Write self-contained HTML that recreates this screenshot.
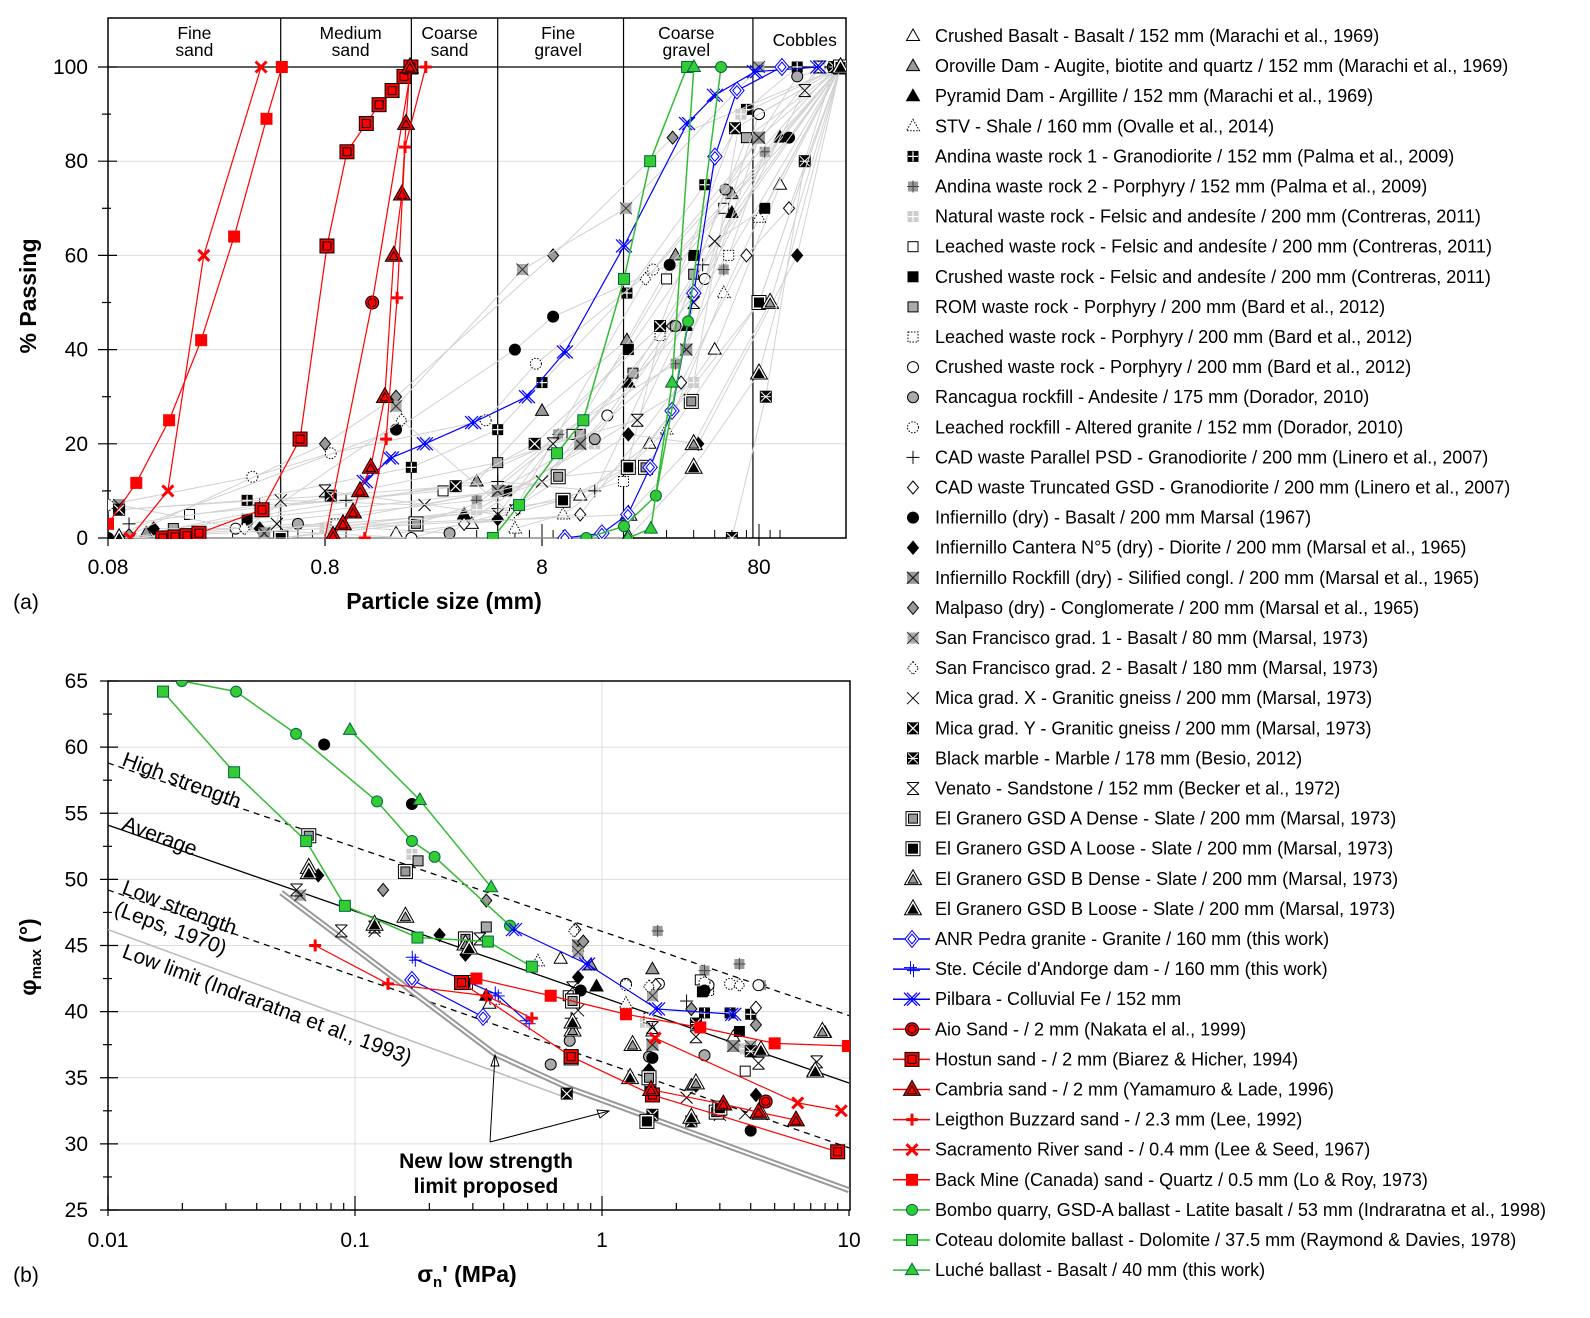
<!DOCTYPE html>
<html><head><meta charset="utf-8"><style>
html,body{margin:0;padding:0;background:#fff}
svg{display:block;font-family:"Liberation Sans",Arial,sans-serif}
</style></head><body>
<svg id="fig" width="1590" height="1318" viewBox="0 0 1590 1318" xmlns="http://www.w3.org/2000/svg">
<defs>
<clipPath id="clipA"><rect x="108" y="18" width="738" height="521"/></clipPath>
<clipPath id="clipB"><rect x="108" y="681" width="742" height="529"/></clipPath>
</defs>
<g id="plotA"></g>
<g id="plotB"></g>
<g id="legend"></g>
</svg>
<script>
// ---------- DATA: top chart (particle size mm, % passing) ----------
const classBounds = [0.5, 2, 5, 19, 75];
const classNames = [["Fine","sand",0.2],["Medium","sand",1.05],["Coarse","sand",3.0],["Fine","gravel",9.5],["Coarse","gravel",37],["Cobbles","",130]];
const topXTicks = [0.08, 0.8, 8, 80];
const topYTicks = [0, 20, 40, 60, 80, 100];
const botXTicks = [0.01, 0.1, 1, 10];
const botYTicks = [25, 30, 35, 40, 45, 50, 55, 60, 65];

const sacramentoTop = [[0.101,0],[0.151,10],[0.221,60],[0.406,100]];
const backMineTop = [[0.08,3],[0.108,11.7],[0.153,25],[0.215,42],[0.305,64],[0.43,89],[0.506,100]];
const hostunTop = [[0.143,0],[0.163,0.2],[0.185,0.5],[0.21,1],[0.41,6],[0.614,21],[0.817,62],[1.01,82],[1.24,88],[1.42,92],[1.63,95],[1.85,98],[1.99,100]];
const aioTop = [[0.8,0],[1.32,50],[2.0,100]];
const cambriaTop = [[0.871,0.5],[0.968,3],[1.077,5.5],[1.16,10],[1.3,15],[1.51,30],[1.66,60],[1.81,73],[1.89,88],[1.97,100]];
const leightonTop = [[1.22,0],[1.53,21],[1.72,51],[1.87,83],[2.33,100]];
const coteauTop = [[4.75,0],[6.27,7],[9.38,18],[12.4,25],[19.1,55],[25.2,80],[37.3,100]];
const bomboTop = [[12.8,0],[19.1,2.5],[26.8,9],[37.7,46],[53.5,100]];
const lucheTop = [[19.9,0],[25.4,2],[31.8,33],[40.1,100]];
const anrTop = [[10.2,0],[15.1,1],[19.9,5],[25.2,15],[31.8,27],[40.1,52],[50.1,81],[63.3,95],[102,100]];
const pilbaraTop = [[1.22,12],[1.61,17],[2.31,20],[3.85,24.5],[6.82,30],[10.2,39.5],[19.1,62],[37.3,88],[50.1,94],[76.7,99],[150,100]];

// ---------- DATA: bottom chart (normal stress MPa, phi max deg) ----------
const bomboBot = [[0.0199,65],[0.033,64.2],[0.0577,61],[0.1228,55.9],[0.17,52.9],[0.21,51.7],[0.424,46.5]];
const coteauBot = [[0.0167,64.2],[0.0324,58.1],[0.0634,52.9],[0.091,48],[0.179,45.6],[0.345,45.3],[0.52,43.4]];
const lucheBot = [[0.0954,61.3],[0.183,56],[0.356,49.4]];
const pilbaraBot = [[0.44,46.2],[0.87,43.6],[1.67,40.2],[3.4,39.8]];
const cecileBot = [[0.173,44],[0.375,41.3],[0.5,39.2]];
const anrBot = [[0.17,42.4],[0.33,39.6]];
const aioBot = [[4.6,33.2]];
const hostunBot = [[0.27,42.2],[0.75,36.6],[1.6,33.7],[9.0,29.4]];
const cambriaBot = [[1.58,34.1],[3.1,33.0],[4.3,32.4],[6.1,31.8]];
const leightonBot = [[0.069,45],[0.136,42.1],[0.34,41.2],[0.52,39.5]];
const sacramentoBot = [[1.64,38],[6.2,33.1],[9.3,32.5]];
const backMineBot = [[0.31,42.5],[0.62,41.2],[1.25,39.8],[2.5,38.8],[5.0,37.6],[9.9,37.4]];

// reference lines (stress, phi)
const highStrength = [[0.01,58.8],[10,39.7]];
const averageLine = [[0.01,54.1],[10,34.6]];
const lowStrength = [[0.01,49.2],[10,29.7]];
const lowLimit = [[0.01,46.2],[0.74,33.4]];
const newLimit = [[0.0502,49.0],[0.368,36.8],[0.74,34.2],[10,26.5]];

// gray datasets: marker type, top points, bottom points
const grayMarkers = ["tri-open","tri-gray","tri-black","tri-dot","quad-black","plus-gray","sq-light","sq-open","sq-black","sq-gray","sq-dot","circ-open","circ-gray","circ-dot","plus","dia-open","circ-black","dia-black","xbox-gray","dia-gray","xsq-gray","dia-dot","x","xbox-black","xbox-black2","star","sqsq-gray","sqsq-black","tritri-gray","tritri-black"];
const grayTop = [
 [[1.7,1],[3.8,3],[12,9],[25,20],[50,40],[100,75],[190,100]],
 [[0.12,1],[4,12],[8,27],[19.7,42],[33,60],[60,73],[190,100]],
 [[0.1,0],[3.5,5],[20,33],[37,45],[60,69],[100,85],[190,100]],
 [[6,2],[10,5],[20,15],[30,23],[55,52],[80,68],[190,100]],
 [[0.09,6],[0.35,8],[2,15],[5,23],[8,33],[19.7,52],[45,75],[70,91],[120,100]],
 [[0.35,3],[4,8],[9.5,22],[33,37],[55,57],[85,82],[190,100]],
 [[0.8,2],[4,6],[14,20],[40,33],[66,90],[190,100]],
 [[0.19,5],[2.8,10],[11,22],[30,55],[55,70],[190,100]],
 [[0.35,4],[5.5,10],[20,40],[40,60],[85,70],[190,100]],
 [[0.16,2],[5,16],[12,22],[21,35],[40,56],[70,85],[190,100]],
 [[0.9,3],[6,6],[19,12],[28,43],[58,60],[190,100]],
 [[0.31,2],[2,0],[6,6],[16,26],[45,55],[80,90],[190,100]],
 [[0.08,0],[0.6,3],[3,1],[14,21],[33,45],[56,74],[120,98],[175,100]],
 [[0.08,7],[0.37,13],[0.85,18],[4.4,25],[7.5,37],[26,57],[152,100]],
 [[0.1,3],[0.4,7],[1.0,8],[5,12],[14,10],[44,58],[190,100]],
 [[3.5,3],[12,5],[35,33],[70,60],[110,70],[190,100]],
 [[0.08,0],[1.7,23],[6,40],[9,47],[31,58],[110,85],[190,100]],
 [[0.13,2],[0.4,2],[5,4],[20,22],[42,20],[120,60],[190,100]],
 [[0.09,7],[0.42,1],[5,10],[12,20],[37,40],[80,85],[190,100]],
 [[0.1,0.6],[0.8,20],[1.7,30],[9,60],[32,85],[190,100]],
 [[1.7,28],[6.5,57],[19.5,70],[80,100]],
 [[0.34,2],[1.8,25],[5.8,5],[24,55],[180,100]],
 [[0.48,3],[0.5,8],[2.3,7],[8,12],[30,45],[50,63],[190,100]],
 [[0.09,6],[0.85,9],[3.2,11],[7.4,20],[28,45],[62,87],[190,100]],
 [[60,0],[86,30],[130,80],[178,100]],
 [[0.8,10],[5,5],[9,20],[22,25],[40,50],[130,95],[152,100]],
 [[0.5,0],[2.1,3],[9.5,13],[24,15],[39,29],[80,50],[190,100]],
 [[0.5,0],[10,8],[20,15],[80,50],[190,100]],
 [[0.09,0],[20,5],[40,20],[90,50],[190,100]],
 [[0.09,0],[20,0],[40,15],[80,35],[190,100]]
];
const grayBot = [
 [[0.68,44],[0.35,40.6],[1.6,38.5],[3.4,38.1]],
 [[1.6,43.2],[2.3,34.4],[8.0,38.4],[0.9,43.5]],
 [[0.34,41.2],[7.2,35.5],[0.95,41.9]],
 [[0.55,43.8],[0.37,40.9],[1.25,40.6]],
 [[2.6,39.9],[3.3,39.9],[4.0,39.8],[2.7,41.7]],
 [[1.68,46.1],[2.6,43.1],[3.6,43.6],[4.4,42]],
 [[0.17,51.9],[3.8,37.2],[1.5,39.2]],
 [[0.73,41.2],[2.5,42.4],[3.8,35.5]],
 [[2.55,41.5],[3.6,38.5]],
 [[0.18,51.4],[0.34,46.4],[3.0,32.4]],
 [[2.7,41.6],[1.55,39.5]],
 [[1.25,42.1],[1.7,42.1],[2.7,42],[4.3,42]],
 [[0.62,36],[1.55,36.6],[2.6,36.7],[0.74,37.8]],
 [[1.25,42],[2.6,42.2],[3.3,42.1]],
 [[0.75,39.5],[2.2,40.8]],
 [[0.78,46.2],[4.2,40.3],[1.65,42]],
 [[0.075,60.2],[0.17,55.7],[2.6,41.6],[4.0,31],[1.6,36.5],[0.82,41.6]],
 [[0.071,50.3],[0.22,45.8],[0.28,44.3],[0.8,42.6],[1.55,35.6],[2.4,34.4],[4.2,33.7]],
 [[0.8,45],[1.6,37.5],[3.4,37.4]],
 [[0.13,49.2],[0.34,48.4],[0.84,45.3],[2.3,40.2],[4.2,39]],
 [[0.06,48.8],[0.8,44.5],[1.6,41.2],[4.0,37.4]],
 [[0.77,46.1],[1.55,41.9],[3.6,42]],
 [[0.12,46.1],[0.8,40.1],[2.2,33.5],[3.0,32.2],[3.8,32.3]],
 [[0.72,33.8],[1.6,32.2],[2.3,31.7]],
 [[1.57,34.4],[2.4,39.1],[4.0,37]],
 [[0.058,49.2],[0.088,46.1],[0.12,46.4],[0.32,45.5],[0.76,41.8],[1.6,38.8],[2.4,38.1],[4.3,36.1],[7.4,36.2]],
 [[0.065,53.3],[0.16,50.6],[0.28,45.5],[0.76,40.8],[1.55,35],[2.9,32.4]],
 [[0.28,42.2],[0.75,36.5],[1.52,31.7],[3.0,32.7]],
 [[0.065,50.9],[0.16,47.2],[0.28,45.1],[0.76,38.6],[1.33,37.5],[2.4,34.6],[4.4,32.3],[7.8,38.5]],
 [[0.065,50.5],[0.12,46.6],[0.29,44.8],[0.76,39.2],[1.3,35],[2.3,32],[4.4,37.1],[7.3,35.5]]
];

const legendText = [
"Crushed Basalt - Basalt / 152 mm (Marachi et al., 1969)",
"Oroville Dam - Augite, biotite and quartz / 152 mm (Marachi et al., 1969)",
"Pyramid Dam - Argillite / 152 mm (Marachi et al., 1969)",
"STV - Shale / 160 mm (Ovalle et al., 2014)",
"Andina waste rock 1 - Granodiorite / 152 mm (Palma et al., 2009)",
"Andina waste rock 2 - Porphyry / 152 mm (Palma et al., 2009)",
"Natural waste rock - Felsic and andesíte / 200 mm (Contreras, 2011)",
"Leached waste rock - Felsic and andesíte / 200 mm (Contreras, 2011)",
"Crushed waste rock - Felsic and andesíte / 200 mm (Contreras, 2011)",
"ROM waste rock - Porphyry / 200 mm (Bard et al., 2012)",
"Leached waste rock - Porphyry / 200 mm (Bard et al., 2012)",
"Crushed waste rock - Porphyry / 200 mm (Bard et al., 2012)",
"Rancagua rockfill - Andesite / 175 mm (Dorador, 2010)",
"Leached rockfill - Altered granite / 152 mm (Dorador, 2010)",
"CAD waste Parallel PSD - Granodiorite / 200 mm (Linero et al., 2007)",
"CAD waste Truncated GSD - Granodiorite / 200 mm (Linero et al., 2007)",
"Infiernillo (dry) - Basalt / 200 mm Marsal (1967)",
"Infiernillo Cantera N°5 (dry) - Diorite / 200 mm (Marsal et al., 1965)",
"Infiernillo Rockfill (dry) - Silified congl. / 200 mm (Marsal et al., 1965)",
"Malpaso (dry) - Conglomerate / 200 mm (Marsal et al., 1965)",
"San Francisco grad. 1 - Basalt / 80 mm (Marsal, 1973)",
"San Francisco grad. 2 - Basalt / 180 mm (Marsal, 1973)",
"Mica grad. X - Granitic gneiss / 200 mm (Marsal, 1973)",
"Mica grad. Y - Granitic gneiss / 200 mm (Marsal, 1973)",
"Black marble - Marble / 178 mm (Besio, 2012)",
"Venato - Sandstone / 152 mm (Becker et al., 1972)",
"El Granero GSD A Dense - Slate / 200 mm (Marsal, 1973)",
"El Granero GSD A Loose - Slate / 200 mm (Marsal, 1973)",
"El Granero GSD B Dense - Slate / 200 mm (Marsal, 1973)",
"El Granero GSD B Loose - Slate / 200 mm (Marsal, 1973)",
"ANR Pedra granite - Granite / 160 mm (this work)",
"Ste. Cécile d'Andorge dam - / 160 mm (this work)",
"Pilbara  - Colluvial Fe / 152 mm",
"Aio Sand - / 2 mm (Nakata el al., 1999)",
"Hostun sand - / 2 mm (Biarez & Hicher, 1994)",
"Cambria sand - / 2 mm (Yamamuro & Lade, 1996)",
"Leigthon Buzzard sand - / 2.3 mm (Lee, 1992)",
"Sacramento River sand - / 0.4 mm (Lee & Seed, 1967)",
"Back Mine (Canada) sand - Quartz / 0.5 mm (Lo & Roy, 1973)",
"Bombo quarry, GSD-A ballast - Latite basalt / 53 mm (Indraratna et al., 1998)",
"Coteau dolomite ballast - Dolomite / 37.5 mm (Raymond & Davies, 1978)",
"Luché ballast - Basalt / 40 mm (this work)"
];
const colorMarkers = ["dia-blue","plus-blue","x-blue","circ-red","sqsq-red","tritri-red","plus-red","x-red","sq-red","circ-green","sq-green","tri-green"];
const colorLines = ["#0000ff","#0000ff","#0000ff","#ff0000","#ff0000","#ff0000","#ff0000","#ff0000","#ff0000","#33bb33","#33bb33","#33bb33"];

// ---------- axes ----------
const NS = "http://www.w3.org/2000/svg";
function ax(d){ return 108 + 217*Math.log10(d/0.08); }
function ay(p){ return 538 - p*4.71; }
function bx(s){ return 108 + 247*Math.log10(s/0.01); }
function by(f){ return 681 + (65-f)*13.225; }

function mk(tag, attrs, parent){
  const e = document.createElementNS(NS, tag);
  for (const k in attrs) e.setAttribute(k, attrs[k]);
  parent.appendChild(e);
  return e;
}
function txt(parent, x, y, s, size, anchor, weight){
  const t = mk("text", {x:x, y:y, "font-size":size, "text-anchor":anchor||"middle", "font-weight":weight||"normal", fill:"#000"}, parent);
  t.textContent = s;
  return t;
}
function poly(g, pts, fill, stroke, dash, sw){
  return mk("polygon", {points: pts.map(p=>p.join(",")).join(" "), fill:fill, stroke:stroke, "stroke-width":sw||1, "stroke-dasharray":dash||"none"}, g);
}
function tri(g,x,y,f,s,k,dash){ k=k||1; return poly(g, [[x,y-7*k],[x+6.5*k,y+4.5*k],[x-6.5*k,y+4.5*k]], f, s, dash); }
function sq(g,x,y,f,s,h,dash){ return mk("rect",{x:x-h,y:y-h,width:2*h,height:2*h,fill:f,stroke:s,"stroke-width":1,"stroke-dasharray":dash||"none"},g); }
function circ(g,x,y,f,s,r,dash){ return mk("circle",{cx:x,cy:y,r:r,fill:f,stroke:s,"stroke-width":1,"stroke-dasharray":dash||"none"},g); }
function dia(g,x,y,f,s,k,dash){ k=k||1; return poly(g,[[x,y-6.5*k],[x+5.5*k,y],[x,y+6.5*k],[x-5.5*k,y]],f,s,dash); }
function ln(g,x1,y1,x2,y2,c,w){ return mk("line",{x1:x1,y1:y1,x2:x2,y2:y2,stroke:c,"stroke-width":w||1},g); }
function plusL(g,x,y,c,w,h){ ln(g,x-h,y,x+h,y,c,w); ln(g,x,y-h,x,y+h,c,w); }
function xL(g,x,y,c,w,h){ ln(g,x-h,y-h,x+h,y+h,c,w); ln(g,x-h,y+h,x+h,y-h,c,w); }

function drawMarker(parent, t, x, y){
  const g = mk("g", {}, parent);
  
  
  switch(t){
    case "tri-open": tri(g,x,y,"#fff","#000"); break;
    case "tri-gray": tri(g,x,y,"#999","#000"); break;
    case "tri-black": tri(g,x,y,"#000","#000"); break;
    case "tri-dot": tri(g,x,y,"#fff","#000",1,"1.5,1.5"); break;
    case "quad-black": sq(g,x,y,"#000","#000",5); plusL(g,x,y,"#fff",1.2,5); break;
    case "plus-gray": sq(g,x,y,"#999","#999",4.5); plusL(g,x,y,"#444",1,6); break;
    case "sq-light": sq(g,x,y,"#ccc","#ccc",5); plusL(g,x,y,"#fff",1.2,5); break;
    case "sq-open": sq(g,x,y,"#fff","#000",5); break;
    case "sq-black": sq(g,x,y,"#000","#000",5); break;
    case "sq-gray": sq(g,x,y,"#aaa","#000",5); break;
    case "sq-dot": sq(g,x,y,"#fff","#000",5,"1.5,1.5"); break;
    case "circ-open": circ(g,x,y,"#fff","#000",5.5); break;
    case "circ-gray": circ(g,x,y,"#aaa","#000",5.5); break;
    case "circ-dot": circ(g,x,y,"#fff","#000",5.5,"1.5,1.5"); break;
    case "circ-black": circ(g,x,y,"#000","#000",5.5); break;
    case "plus": plusL(g,x,y,"#000",1,6.5); break;
    case "dia-open": dia(g,x,y,"#fff","#000"); break;
    case "dia-black": dia(g,x,y,"#000","#000"); break;
    case "dia-gray": dia(g,x,y,"#999","#000"); break;
    case "dia-dot": dia(g,x,y,"#fff","#000",1,"1.5,1.5"); break;
    case "xbox-gray": sq(g,x,y,"#999","#999",5.5); xL(g,x,y,"#222",1.2,6); break;
    case "xsq-gray": sq(g,x,y,"#aaa","#aaa",5); xL(g,x,y,"#333",1,6); break;
    case "x": xL(g,x,y,"#000",1,6); break;
    case "xbox-black": sq(g,x,y,"#000","#000",5.5); xL(g,x,y,"#fff",1.2,5); break;
    case "xbox-black2": sq(g,x,y,"#000","#000",5.5); xL(g,x,y,"#fff",1,5); ln(g,x-5,y,x+5,y,"#fff",1); break;
    case "star": xL(g,x,y,"#000",1,6); ln(g,x-6,y-6,x+6,y-6,"#000",1); ln(g,x-6,y+6,x+6,y+6,"#000",1); break;
    case "sqsq-gray": sq(g,x,y,"#fff","#000",7); sq(g,x,y,"#999","#000",4.5); break;
    case "sqsq-black": sq(g,x,y,"#fff","#000",7); sq(g,x,y,"#000","#000",4.5); break;
    case "tritri-gray": tri(g,x,y,"#fff","#000",1.3); tri(g,x,y+1,"#999","#000",0.75); break;
    case "tritri-black": tri(g,x,y,"#fff","#000",1.3); tri(g,x,y+1,"#000","#000",0.75); break;
    case "dia-blue": dia(g,x,y,"#fff","#00f",1.3); dia(g,x,y,"#fff","#00f",0.75); break;
    case "plus-blue": plusL(g,x-1.5,y-1.5,"#00f",1,6.5); plusL(g,x+1.5,y+1.5,"#00f",1,6.5); break;
    case "x-blue": xL(g,x-1.5,y,"#00f",1.2,6.5); xL(g,x+1.5,y,"#00f",1.2,6.5); break;
    case "circ-red": circ(g,x,y,"#f00","#000",6.5); circ(g,x,y,"#f00","#000",4); break;
    case "sqsq-red": sq(g,x,y,"#f00","#000",7); sq(g,x,y,"#f00","#000",4); break;
    case "tritri-red": tri(g,x,y,"#f00","#000",1.3); tri(g,x,y+1,"#f00","#000",0.7); break;
    case "plus-red": plusL(g,x,y,"#f00",3,6); break;
    case "x-red": xL(g,x,y,"#f00",3,5.5); break;
    case "sq-red": sq(g,x,y,"#f00","#f00",5.5); break;
    case "circ-green": circ(g,x,y,"#33cc33","#064",5.5); break;
    case "sq-green": sq(g,x,y,"#33cc33","#064",5.5); break;
    case "tri-green": tri(g,x,y,"#33cc33","#064"); break;
  }
  return g;
}

// ---------- TOP CHART ----------
const A = document.getElementById("plotA");
for (const p of [20,40,60,80]) ln(A,108,ay(p),846,ay(p),"#dcdcdc",1);
const topFrame = mk("rect",{x:108,y:18,width:738,height:520,fill:"none",stroke:"#000","stroke-width":1.5},A);


ln(A,108,ay(100),846,ay(100),"#000",1.2);
for (const b of classBounds) ln(A,ax(b),18,ax(b),538,"#000",1.2);
for (const c of classNames){
  const g = mk("g",{},A);
  
  
  if (c[1]) { txt(g,ax(c[2]),39,c[0],17.5); txt(g,ax(c[2]),56,c[1],17.5); }
  else txt(g,ax(c[2]),46,c[0],17.5);
}
for (let p=0;p<=100;p+=10){ const maj = p%20===0; ln(A, maj?98:102, ay(p), maj?117:111, ay(p), "#000", 1.2); }
for (const p of topYTicks){ const t = txt(A,88,ay(p)+7,String(p),21,"end");
  
   }
for (let e=-2;e<=2;e++) for (let m=1;m<10;m++){ const d=m*Math.pow(10,e); if(d<0.08||d>195) continue; const xx=ax(d); ln(A,xx,538,xx,m===8?524:530,"#000",1); }
for (const d of topXTicks){ ln(A,ax(d),538,ax(d),546,"#000",1.2); const t = txt(A,ax(d),574,String(d),21);
  
   }
const tA = txt(A,444,609,"Particle size (mm)",23,"middle","bold");


const yA = txt(A,0,0,"% Passing",23,"middle","bold");
yA.setAttribute("transform","translate(36,296) rotate(-90)");


const la = txt(A,26,609,"(a)",21);



const clipA = mk("g",{"clip-path":"url(#clipA)"},A);
function seriesA(pts, marker, color, w){
  const g = mk("g",{},clipA);
  
  
  mk("polyline",{points: pts.map(p=>ax(p[0])+","+ay(p[1])).join(" "), fill:"none", stroke:color, "stroke-width":w},g);
  for (const p of pts) drawMarker(g, marker, ax(p[0]), ay(p[1]));
}
for (let i=0;i<grayTop.length;i++) seriesA(grayTop[i], grayMarkers[i], "#d2d2d2", 1);
seriesA(pilbaraTop,"x-blue","#0000ff",1.2);
seriesA(anrTop,"dia-blue","#0000ff",1.2);
seriesA(coteauTop,"sq-green","#33bb33",1.5);
seriesA(bomboTop,"circ-green","#33bb33",1.5);
seriesA(lucheTop,"tri-green","#33bb33",1.5);
seriesA(sacramentoTop,"x-red","#ff0000",1.2);
seriesA(backMineTop,"sq-red","#ff0000",1.2);
seriesA(hostunTop,"sqsq-red","#ff0000",1.2);
seriesA(aioTop.slice(1,2),"circ-red","#ff0000",1.2);
mk("polyline",{points: aioTop.map(p=>ax(p[0])+","+ay(p[1])).join(" "), fill:"none", stroke:"#ff0000","stroke-width":1.2},clipA);
seriesA(cambriaTop,"tritri-red","#ff0000",1.2);
seriesA(leightonTop,"plus-red","#ff0000",1.2);

// ---------- BOTTOM CHART ----------
const B = document.getElementById("plotB");
for (const f of [30,35,40,45,50,55,60]) ln(B,108,by(f),850,by(f),"#dcdcdc",1);
for (const s of [0.1,1]) ln(B,bx(s),681,bx(s),1210,"#dcdcdc",1);
const botFrame = mk("rect",{x:108,y:681,width:742,height:529,fill:"none",stroke:"#000","stroke-width":1.5},B);


for (let f=25; f<=65; f+=2.5){ const maj = f%5===0; ln(B, maj?100:103, by(f), maj?118:112, by(f), "#000", 1.2); }
for (const f of botYTicks){ const t = txt(B,88,by(f)+7,String(f),21,"end");
  
   }
for (let e=-2;e<=0;e++) for (let m=1;m<10;m++){ const s=m*Math.pow(10,e); const xx=bx(s); ln(B,xx,1210,xx,m===1?1196:1203,"#000",1.2); }
for (const s of botXTicks){ ln(B,bx(s),1210,bx(s),1216,"#000",1.2); const t = txt(B,bx(s),1247,String(s),21);
  
   }
const tB = txt(B,0,1282,"",23,"middle","bold");
tB.setAttribute("x","467");
tB.innerHTML = 'σ<tspan font-size="15" dy="5">n</tspan><tspan dy="-5">\' (MPa)</tspan>';


const yB = txt(B,0,0,"",23,"middle","bold");
yB.innerHTML = 'φ<tspan font-size="15" dy="5">max</tspan><tspan dy="-5"> (°)</tspan>';
yB.setAttribute("transform","translate(36,957) rotate(-90)");


const lb = txt(B,26,1282,"(b)",21);



const clipB = mk("g",{"clip-path":"url(#clipB)"},B);
function refLine(pts, color, w, dash, name){
  const p = mk("polyline",{points: pts.map(q=>bx(q[0])+","+by(q[1])).join(" "), fill:"none", stroke:color, "stroke-width":w, "stroke-dasharray":dash||"none"},clipB);
  
  
  return p;
}
refLine(lowLimit,"#bbb",1.5,null,"low-limit-line");
refLine(highStrength,"#000",1.3,"6,5","high-strength-line");
refLine(averageLine,"#000",1.3,null,"average-line");
refLine(lowStrength,"#000",1.3,"6,5","low-strength-line");
refLine(newLimit,"#999",6,null,"new-limit-line-outer");
refLine(newLimit,"#fff",2,null,"new-limit-line-inner");

function rotText(x,y,ang,s,name){
  const t = txt(B,0,0,s,21,"start");
  t.setAttribute("transform","translate("+x+","+y+") rotate("+ang+")");
  
  
}
rotText(121,765,20.5,"High strength","high-strength-label");
rotText(121,829,20.5,"Average","average-label");
rotText(121,893,20.5,"Low strength","low-strength-label");
rotText(113,914,20.5,"(Leps, 1970)","leps-label");
rotText(121,957,20.5,"Low limit (Indraratna et al., 1993)","low-limit-label");

for (let i=0;i<grayBot.length;i++){
  const g = mk("g",{},clipB);
  
  
  for (const p of grayBot[i]) drawMarker(g, grayMarkers[i], bx(p[0]), by(p[1]));
}
function seriesB(pts, marker, color, w){
  const g = mk("g",{},clipB);
  
  
  mk("polyline",{points: pts.map(p=>bx(p[0])+","+by(p[1])).join(" "), fill:"none", stroke:color, "stroke-width":w},g);
  for (const p of pts) drawMarker(g, marker, bx(p[0]), by(p[1]));
}
seriesB(bomboBot,"circ-green","#33bb33",1.5);
seriesB(coteauBot,"sq-green","#33bb33",1.5);
seriesB(lucheBot,"tri-green","#33bb33",1.5);
seriesB(pilbaraBot,"x-blue","#0000ff",1.2);
seriesB(cecileBot,"plus-blue","#0000ff",1.2);
seriesB(anrBot,"dia-blue","#0000ff",1.2);
seriesB(leightonBot,"plus-red","#ff0000",1.2);
seriesB(backMineBot,"sq-red","#ff0000",1.2);
seriesB(hostunBot,"sqsq-red","#ff0000",1.2);
seriesB(cambriaBot,"tritri-red","#ff0000",1.2);
seriesB(sacramentoBot,"x-red","#ff0000",1.2);
seriesB(aioBot,"circ-red","#ff0000",1.2);

const ann = mk("g",{},B);


ln(ann,490,1142,495,1055,"#000",1);
ln(ann,490,1142,609,1111,"#000",1);
poly(ann,[[495,1055],[491,1066],[499,1066]],"none","#000");
poly(ann,[[609,1111],[597,1110],[600,1118]],"none","#000");
txt(ann,486,1168,"New low strength",21,"middle","bold");
txt(ann,486,1193,"limit proposed",21,"middle","bold");

// ---------- LEGEND ----------
const L = document.getElementById("legend");
for (let i=0;i<legendText.length;i++){
  const y = 36 + i*30.1;
  const g = mk("g",{},L);
  
  
  if (i < 30) drawMarker(g, grayMarkers[i], 913, y);
  else { ln(g,893,y,930,y,colorLines[i-30],1.5); drawMarker(g, colorMarkers[i-30], 912, y); }
  txt(g,935,y+6,legendText[i],18,"start");
}
</script>
</body></html>
